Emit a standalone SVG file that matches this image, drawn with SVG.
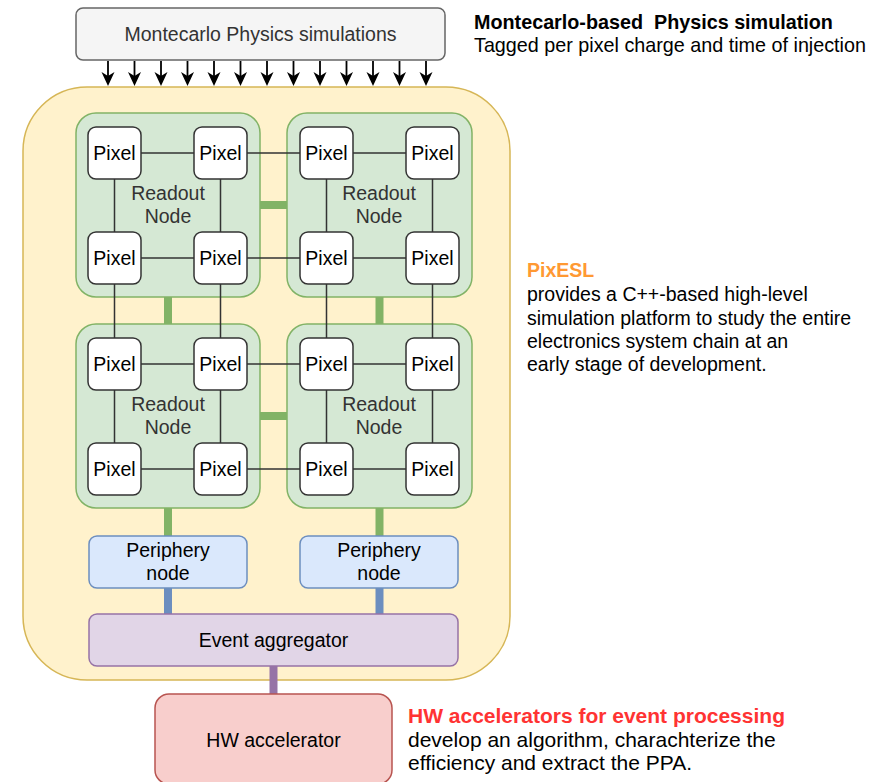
<svg xmlns="http://www.w3.org/2000/svg" xmlns:xlink="http://www.w3.org/1999/xlink" width="876" height="782" viewBox="0 0 876 782">
<defs>
<style>
text{font-family:"Liberation Sans",Arial,sans-serif;font-size:19.5px;fill:#000}
.c{text-anchor:middle}
.g{fill:#333}
.px{fill:#fff;stroke:#333;stroke-width:1.5}
.rn{fill:#d5e8d4;stroke:#82b366;stroke-width:1.5}
.pn{fill:#dae8fc;stroke:#6c8ebf;stroke-width:1.5}
.ln{stroke:#333;stroke-width:1.5;fill:none}
.gb{stroke:#82b366;stroke-width:8}
.bb{stroke:#6c8ebf;stroke-width:8}
.ar{stroke:#000;stroke-width:1.8}
.b{font-weight:bold}
.mc{font-size:19.75px}
.hw{font-size:21px}
</style>
<path id="ah" d="M-6.5,-14 L0,0 L6.5,-14 L0,-10 z" fill="#000"/>
</defs>
<rect width="876" height="782" fill="#fff"/>

<g id="container">
<rect x="23" y="87" width="487" height="593" rx="64" fill="#fff2cc" stroke="#d6b656" stroke-width="1.5"/>
</g>

<g id="montecarlo">
<rect x="76" y="8" width="369" height="52" rx="7" fill="#f5f5f5" stroke="#666" stroke-width="1.5"/>
<text class="c g" x="260.5" y="41">Montecarlo Physics simulations</text>
</g>

<g id="readout1"><rect class="rn" x="76" y="113" width="184" height="184" rx="20"/><text class="c g" x="168" y="200">Readout</text><text class="c g" x="168" y="223">Node</text></g>
<g id="readout2"><rect class="rn" x="287" y="113" width="185" height="184" rx="20"/><text class="c g" x="379" y="200">Readout</text><text class="c g" x="379" y="223">Node</text></g>
<g id="readout3"><rect class="rn" x="76" y="324" width="184" height="184" rx="20"/><text class="c g" x="168" y="411">Readout</text><text class="c g" x="168" y="434">Node</text></g>
<g id="readout4"><rect class="rn" x="287" y="324" width="185" height="184" rx="20"/><text class="c g" x="379" y="411">Readout</text><text class="c g" x="379" y="434">Node</text></g>

<g id="connectors">
<path class="ar" d="M108,61V77M134.5,61V77M161,61V77M187.5,61V77M214,61V77M240.5,61V77M267,61V77M293.5,61V77M320,61V77M346.5,61V77M373,61V77M399.5,61V77M426,61V77"/>
<use xlink:href="#ah" href="#ah" x="108" y="86"/>
<use xlink:href="#ah" href="#ah" x="134.5" y="86"/>
<use xlink:href="#ah" href="#ah" x="161" y="86"/>
<use xlink:href="#ah" href="#ah" x="187.5" y="86"/>
<use xlink:href="#ah" href="#ah" x="214" y="86"/>
<use xlink:href="#ah" href="#ah" x="240.5" y="86"/>
<use xlink:href="#ah" href="#ah" x="267" y="86"/>
<use xlink:href="#ah" href="#ah" x="293.5" y="86"/>
<use xlink:href="#ah" href="#ah" x="320" y="86"/>
<use xlink:href="#ah" href="#ah" x="346.5" y="86"/>
<use xlink:href="#ah" href="#ah" x="373" y="86"/>
<use xlink:href="#ah" href="#ah" x="399.5" y="86"/>
<use xlink:href="#ah" href="#ah" x="426" y="86"/>
<g class="ln">
<path d="M141,153H406M141,258H406M141,364H406M141,469H406"/>
<path d="M114.5,179V443M220.5,179V443M326.5,179V443M432.5,179V443"/>
</g>
<g class="gb">
<line x1="260" y1="205" x2="287" y2="205"/>
<line x1="260" y1="416" x2="287" y2="416"/>
<line x1="168" y1="297" x2="168" y2="324"/>
<line x1="379.5" y1="297" x2="379.5" y2="324"/>
<line x1="168" y1="508" x2="168" y2="536"/>
<line x1="379.5" y1="508" x2="379.5" y2="536"/>
</g>
<g class="bb">
<line x1="168" y1="588" x2="168" y2="614"/>
<line x1="379.5" y1="588" x2="379.5" y2="614"/>
</g>
<line x1="273.5" y1="666" x2="273.5" y2="694" stroke="#9673a6" stroke-width="8"/>
</g>

<g id="pixel-1-1"><rect class="px" x="88" y="127" width="53" height="52" rx="8"/><text class="c" x="114.5" y="160">Pixel</text></g>
<g id="pixel-1-2"><rect class="px" x="194" y="127" width="53" height="52" rx="8"/><text class="c" x="220.5" y="160">Pixel</text></g>
<g id="pixel-1-3"><rect class="px" x="300" y="127" width="53" height="52" rx="8"/><text class="c" x="326.5" y="160">Pixel</text></g>
<g id="pixel-1-4"><rect class="px" x="406" y="127" width="53" height="52" rx="8"/><text class="c" x="432.5" y="160">Pixel</text></g>
<g id="pixel-2-1"><rect class="px" x="88" y="232" width="53" height="52" rx="8"/><text class="c" x="114.5" y="265">Pixel</text></g>
<g id="pixel-2-2"><rect class="px" x="194" y="232" width="53" height="52" rx="8"/><text class="c" x="220.5" y="265">Pixel</text></g>
<g id="pixel-2-3"><rect class="px" x="300" y="232" width="53" height="52" rx="8"/><text class="c" x="326.5" y="265">Pixel</text></g>
<g id="pixel-2-4"><rect class="px" x="406" y="232" width="53" height="52" rx="8"/><text class="c" x="432.5" y="265">Pixel</text></g>
<g id="pixel-3-1"><rect class="px" x="88" y="338" width="53" height="52" rx="8"/><text class="c" x="114.5" y="371">Pixel</text></g>
<g id="pixel-3-2"><rect class="px" x="194" y="338" width="53" height="52" rx="8"/><text class="c" x="220.5" y="371">Pixel</text></g>
<g id="pixel-3-3"><rect class="px" x="300" y="338" width="53" height="52" rx="8"/><text class="c" x="326.5" y="371">Pixel</text></g>
<g id="pixel-3-4"><rect class="px" x="406" y="338" width="53" height="52" rx="8"/><text class="c" x="432.5" y="371">Pixel</text></g>
<g id="pixel-4-1"><rect class="px" x="88" y="443" width="53" height="52" rx="8"/><text class="c" x="114.5" y="476">Pixel</text></g>
<g id="pixel-4-2"><rect class="px" x="194" y="443" width="53" height="52" rx="8"/><text class="c" x="220.5" y="476">Pixel</text></g>
<g id="pixel-4-3"><rect class="px" x="300" y="443" width="53" height="52" rx="8"/><text class="c" x="326.5" y="476">Pixel</text></g>
<g id="pixel-4-4"><rect class="px" x="406" y="443" width="53" height="52" rx="8"/><text class="c" x="432.5" y="476">Pixel</text></g>

<g id="periphery1"><rect class="pn" x="89" y="536" width="158" height="52" rx="8"/><text class="c" x="168" y="557">Periphery</text><text class="c" x="168" y="580">node</text></g>
<g id="periphery2"><rect class="pn" x="300" y="536" width="158" height="52" rx="8"/><text class="c" x="379" y="557">Periphery</text><text class="c" x="379" y="580">node</text></g>

<g id="aggregator"><rect x="89" y="614" width="369" height="52" rx="8" fill="#e1d5e7" stroke="#9673a6" stroke-width="1.5"/><text class="c" x="273.5" y="647">Event aggregator</text></g>

<g id="hw-accelerator"><rect x="155" y="694" width="237" height="90" rx="14" fill="#f8cecc" stroke="#b85450" stroke-width="1.5"/><text class="c" x="273.5" y="747">HW accelerator</text></g>

<g id="note-montecarlo">
<text class="b mc" x="474" y="29" xml:space="preserve" style="white-space:pre">Montecarlo-based  Physics simulation</text>
<text class="mc" x="474" y="52">Tagged per pixel charge and time of injection</text>
</g>
<g id="note-pixesl">
<text class="b" x="527" y="277" style="fill:#ff9933">PixESL</text>
<text x="527" y="301">provides a C++-based high-level</text>
<text x="527" y="324.5">simulation platform to study the entire</text>
<text x="527" y="348">electronics system chain at an</text>
<text x="527" y="371">early stage of development.</text>
</g>
<g id="note-hw">
<text class="b hw" x="408" y="723" style="fill:#ff3333">HW accelerators for event processing</text>
<text class="hw" x="408" y="746.5">develop an algorithm, charachterize the</text>
<text class="hw" x="408" y="770">efficiency and extract the PPA.</text>
</g>
</svg>
